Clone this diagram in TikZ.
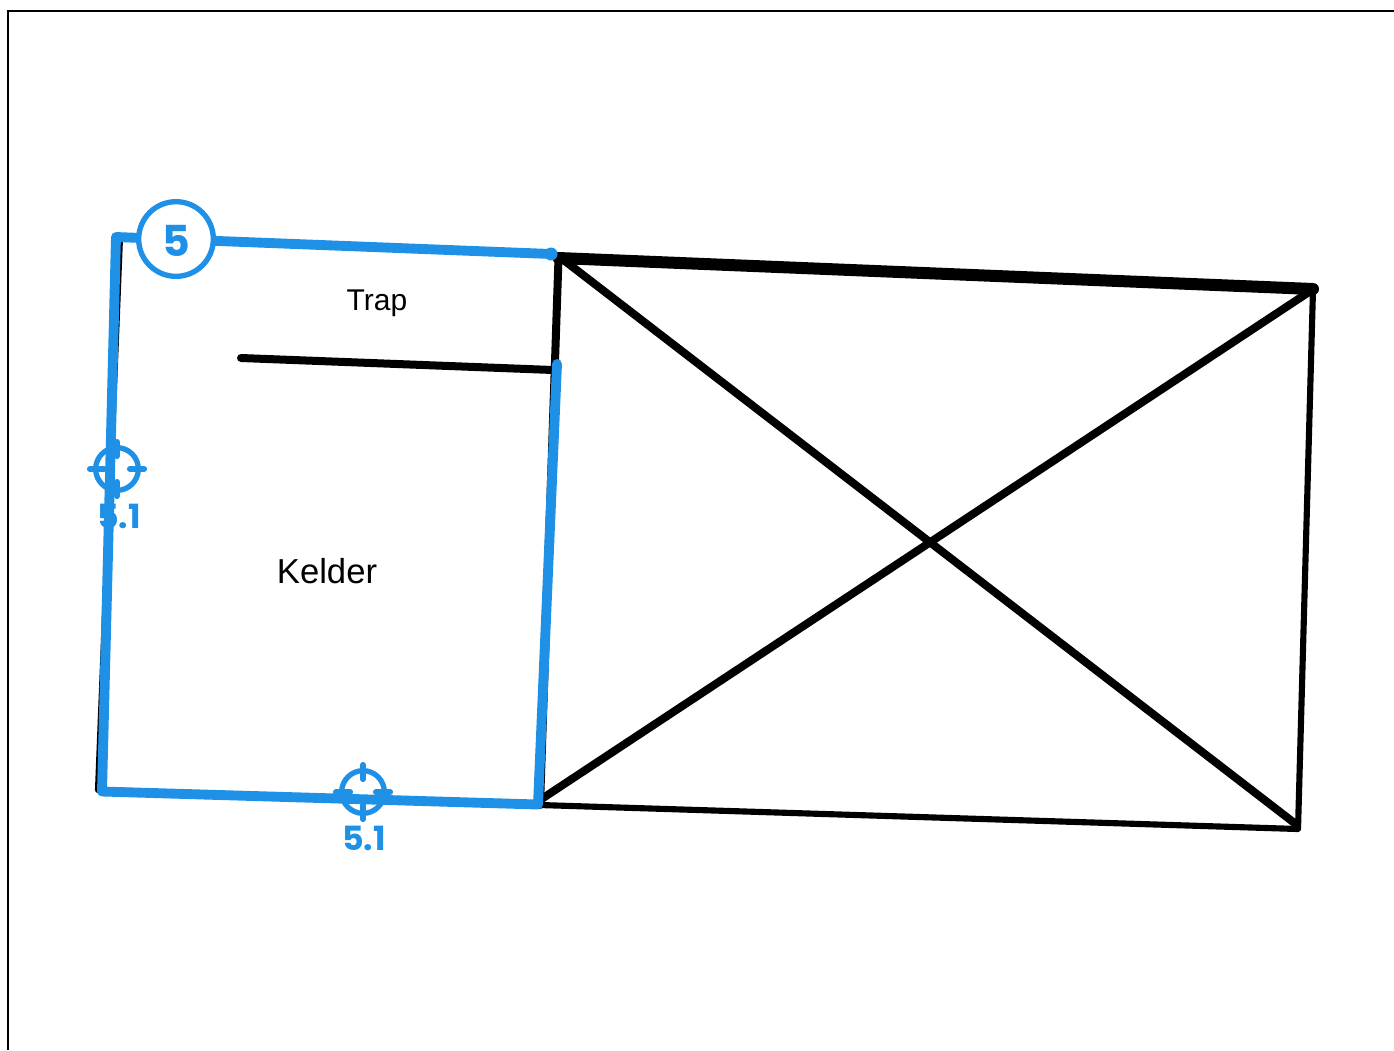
\documentclass[tikz,border=0pt]{standalone}
\usepackage{fontspec}
\setmainfont{Liberation Sans}
\newfontfamily\tagfont[BoldFont={Poppins Bold}]{Poppins}
\definecolor{tagblue}{HTML}{1E90E6}
\tikzset{
  x=0.75pt,y=-0.75pt,
  frameline/.style={draw=black,line width=1.9pt},
  wall/.style={draw=black,line width=6pt,line cap=round,line join=round},
  thickwall/.style={draw=black,line width=9pt,line cap=round,line join=round},
  thinwall/.style={draw=black,line width=4.6pt,line cap=round,line join=round},
  bluewall/.style={draw=tagblue,line width=7.4pt,line cap=round,line join=round},
  ring/.style={circle,draw=tagblue,line width=4pt,fill=white,minimum size=56pt,inner sep=0pt},
  ringtext/.style={text=tagblue,inner sep=0pt,font=\tagfont\bfseries\fontsize{32}{32}\selectfont},
  sight/.style={draw=tagblue,line width=4pt},
  tick/.style={draw=tagblue,line width=4.6pt,line cap=round},
  tagtext/.style={text=tagblue,font=\tagfont\bfseries\fontsize{25}{25}\selectfont,inner sep=0pt},
  roomtext/.style={text=black,inner sep=0pt}
}
\begin{document}
\begin{tikzpicture}
\useasboundingbox (0,0) rectangle (1394,1050);
% named points
\coordinate (fa) at (8,1050);
\coordinate (fb) at (8,11);
\coordinate (fc) at (1394,11);
\coordinate (rA) at (558.5,258);
\coordinate (rB) at (1313,289);
\coordinate (rC) at (1298,829);
\coordinate (rD) at (540,805);
\coordinate (dA) at (561,258);
\coordinate (dC) at (1297,825);
\coordinate (dB) at (1312,290);
\coordinate (dD) at (540,800);
\coordinate (bTL) at (120,237);
\coordinate (bBL) at (98,790);
\coordinate (sA) at (241,358);
\coordinate (sB) at (553,370);
\coordinate (uA) at (551,254);
\coordinate (uB) at (116,237);
\coordinate (uC) at (102,791.5);
\coordinate (uD) at (538,804.5);
\coordinate (uE) at (557,364);
% frame
\draw[frameline] (fa) -- (fb) -- (fc);
% black building
\draw[thinwall] (bTL) -- (bBL) -- (rD) -- (rC) -- (rB);
\draw[wall] (rD) -- (rA);
\draw[thickwall] (rA) -- (rB);
\draw[wall] (dA) -- (dC);
\draw[wall] (dB) -- (dD);
\draw[wall] (sA) -- (sB);
% crosshair left
\node[circle,sight,minimum size=32pt,inner sep=0pt] (c1) at (117,469) {};
\coordinate (c1l0) at (90,469); \coordinate (c1l1) at (104,469);
\coordinate (c1r0) at (130,469); \coordinate (c1r1) at (144,469);
\coordinate (c1t0) at (117,442); \coordinate (c1t1) at (117,456);
\coordinate (c1b0) at (117,482); \coordinate (c1b1) at (117,496);
\draw[tick] (c1l0) -- (c1l1);
\draw[tick] (c1r0) -- (c1r1);
\draw[tick] (c1t0) -- (c1t1);
\draw[tick] (c1b0) -- (c1b1);
% crosshair bottom
\node[circle,sight,minimum size=32pt,inner sep=0pt] (c2) at (363,792) {};
\coordinate (c2l0) at (336,792); \coordinate (c2l1) at (350,792);
\coordinate (c2r0) at (376,792); \coordinate (c2r1) at (390,792);
\coordinate (c2t0) at (363,765); \coordinate (c2t1) at (363,779);
\coordinate (c2b0) at (363,805); \coordinate (c2b1) at (363,819);
\draw[tick] (c2l0) -- (c2l1);
\draw[tick] (c2r0) -- (c2r1);
\draw[tick] (c2t0) -- (c2t1);
\draw[tick] (c2b0) -- (c2b1);
% labels under the blue line
\node[tagtext] (l1) at (119,516.5) {5.1};
\node[tagtext] (l2) at (364,838.5) {5.1};
% blue outline
\draw[bluewall] (uA) -- (uB) -- (uC) -- (uD) -- (uE);
\fill[tagblue] (uA) circle (6.5);
% badge
\node[ring] (badge) at (176,239) {};
\node[ringtext] (badgenum) at (176,240.5) {5};
% room names
\node[roomtext,font=\fontsize{22.5}{22.5}\selectfont] (trap) at (377,303) {Trap};
\node[roomtext,font=\fontsize{26}{26}\selectfont] (kelder) at (327,571) {Kelder};
\end{tikzpicture}
\end{document}
